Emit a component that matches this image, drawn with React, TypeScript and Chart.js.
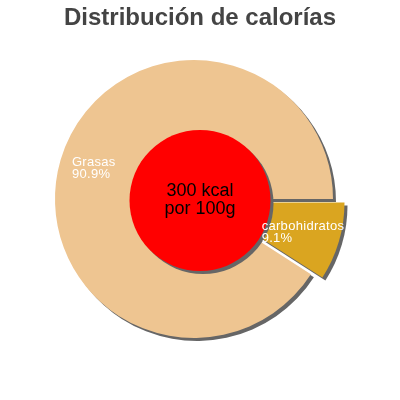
import { useEffect, useRef } from 'react';
import { Chart, ArcElement, DoughnutController } from 'chart.js';

Chart.register(ArcElement, DoughnutController);

const title = 'Distribución de calorías';
const labels = ['Grasas', 'carbohidratos'];
const percents = [90.9, 9.1];
const colors = ['#EEC591', '#DAA520'];
const centerLines = ['300 kcal', 'por 100g'];

const FONT = "'Liberation Sans', Arial, sans-serif";
const SHADOW = '#666666';

// pixels each slice is pulled out of the pie
const explode = [0, 12];
// where each label sits: fraction of the radius and a small angle nudge (deg)
const labelPlace = [
  { r: 0.91, shift: -1.2 },
  { r: 0.45, shift: 9.8 },
];

const piePlugin = {
  id: 'piePlugin',
  afterDatasetUpdate(chart: any, args: any) {
    args.meta.data.forEach((arc: any, i: number) => {
      const e = explode[i] || 0;
      if (!e) return;
      const mid = (arc.startAngle + arc.endAngle) / 2;
      arc.x += Math.cos(mid) * e;
      arc.y += Math.sin(mid) * e;
    });
  },
  beforeDatasetsDraw(chart: any) {
    const ctx = chart.ctx;
    ctx.save();
    ctx.shadowColor = SHADOW;
    ctx.shadowOffsetX = 3;
    ctx.shadowOffsetY = 3;
    ctx.shadowBlur = 0;
  },
  afterDatasetsDraw(chart: any) {
    const ctx = chart.ctx;
    ctx.restore();

    // red centre disc
    const cx = chart.width / 2;
    const cy = chart.height / 2 + 0.5;
    ctx.save();
    ctx.shadowColor = SHADOW;
    ctx.shadowOffsetX = 3;
    ctx.shadowOffsetY = 3;
    ctx.shadowBlur = 0;
    ctx.beginPath();
    ctx.arc(cx, cy, 70.5, 0, Math.PI * 2);
    ctx.fillStyle = '#FF0000';
    ctx.fill();
    ctx.restore();

    ctx.save();
    ctx.fillStyle = '#000';
    ctx.font = `18px ${FONT}`;
    ctx.textAlign = 'center';
    ctx.textBaseline = 'alphabetic';
    ctx.fillText(centerLines[0], cx, 196);
    ctx.fillText(centerLines[1], cx, 214);
    ctx.restore();

    // slice labels
    const meta = chart.getDatasetMeta(0);
    ctx.save();
    ctx.fillStyle = '#fff';
    ctx.font = `13px ${FONT}`;
    ctx.letterSpacing = '0.3px';
    ctx.textAlign = 'left';
    ctx.textBaseline = 'alphabetic';
    meta.data.forEach((arc: any, i: number) => {
      const p = labelPlace[i];
      const mid = (arc.startAngle + arc.endAngle) / 2 + (p.shift * Math.PI) / 180;
      const x = arc.x + Math.cos(mid) * arc.outerRadius * p.r;
      const y = arc.y + Math.sin(mid) * arc.outerRadius * p.r;
      ctx.fillText(labels[i], x, y);
      ctx.fillText(percents[i].toFixed(1) + '%', x, y + 12);
    });
    ctx.restore();
  },
  afterDraw(chart: any) {
    const ctx = chart.ctx;
    ctx.save();
    ctx.fillStyle = '#444444';
    ctx.font = `bold 24px ${FONT}`;
    ctx.textAlign = 'center';
    ctx.textBaseline = 'alphabetic';
    ctx.fillText(title, chart.width / 2, 25);
    ctx.restore();
  },
};

export default function App() {
  const canvasRef = useRef<HTMLCanvasElement>(null);
  const chartRef = useRef<Chart | null>(null);

  useEffect(() => {
    if (!canvasRef.current) return;
    if (chartRef.current) chartRef.current.destroy();

    const total = percents.reduce((a, b) => a + b, 0);
    // small slice starts at 3 o'clock and runs clockwise
    const rotation = 90 + (360 * percents[1]) / total;

    chartRef.current = new Chart(canvasRef.current, {
      type: 'doughnut',
      data: {
        labels,
        datasets: [
          {
            data: percents,
            backgroundColor: colors,
            borderWidth: 0,
          },
        ],
      },
      options: {
        responsive: false,
        animation: false,
        events: [],
        cutout: 0,
        radius: 139,
        rotation,
        layout: { padding: { left: 50, right: 62, top: 58, bottom: 60 } },
        plugins: {
          legend: { display: false },
          tooltip: { enabled: false },
        },
      },
      plugins: [piePlugin],
    });

    return () => {
      if (chartRef.current) {
        chartRef.current.destroy();
        chartRef.current = null;
      }
    };
  }, []);

  return (
    <div style={{ position: 'fixed', left: 0, top: 0, width: 400, height: 400, background: '#fff' }}>
      <canvas ref={canvasRef} width={400} height={400} />
    </div>
  );
}
